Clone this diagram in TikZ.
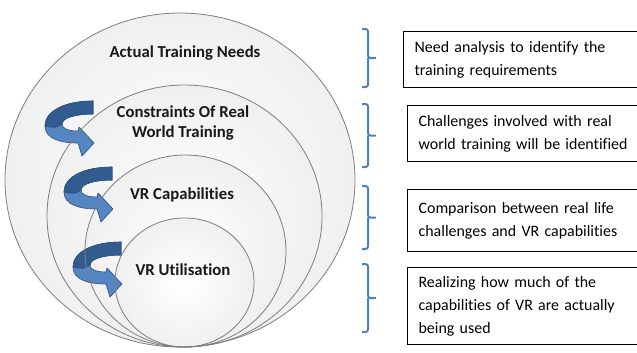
\documentclass[tikz,border=0pt]{standalone}
\usepackage{fontspec}
\setmainfont{Carlito}[Ligatures=NoCommon]
\definecolor{ringfill}{RGB}{240,240,240}
\definecolor{ringline}{RGB}{125,125,125}
\definecolor{arrowdark}{RGB}{50,92,143}
\definecolor{arrowlight}{RGB}{84,134,196}
\definecolor{arrowline}{RGB}{45,80,122}
\definecolor{bracecol}{RGB}{79,129,189}
\tikzstyle{ring}=[inner color=white, outer color=ringfill]
\tikzstyle{ringedge}=[draw=ringline, line width=0.8bp]
\tikzstyle{ringtext}=[font=\fontsize{16.8}{20}\selectfont\bfseries, align=center, text=black!90]
\tikzstyle{descbox}=[draw, line width=1.2bp, anchor=north west, inner xsep=11bp, text width=228bp, align=left, font=\fontsize{16}{23}\selectfont]
\tikzstyle{bracket}=[draw=bracecol, line width=2bp, rounded corners=2.5bp]
% curled arrow, origin at the top right corner of its tail
\tikzset{turnarrow/.pic={
  \filldraw[fill=arrowlight, draw=arrowline, line width=0.6bp] (0,0) .. controls (-28,0) and (-48,10) .. (-48,25) .. controls (-48,38) and (-32,42) .. (-15,42) -- (-11,55) -- (1,42) -- (-14,26) -- (-15,30) .. controls (-26,30) and (-31,27) .. (-31,23) .. controls (-31,17) and (-18,13) .. (0,13) -- cycle;
  \filldraw[fill=arrowdark, draw=arrowline, line width=0.6bp] (0,0) .. controls (-28,0) and (-48,10) .. (-48,25) .. controls (-42,27) and (-34,27) .. (-31,23) .. controls (-31,17) and (-18,13) .. (0,13) -- cycle;
}}
% square brace from #1 to #2 on x = 368
\newcommand{\sidebrace}[2]{%
  \draw[bracket] (362,#1) -- (368,#1) -- (368,{(#1+#2)/2}) -- (376,{(#1+#2)/2})
    (368,{(#1+#2)/2}) -- (368,#2) -- (362,#2);}

\begin{document}
\begin{tikzpicture}[x=1bp, y=-1bp]
    \useasboundingbox (0,0) rectangle (637,352);
    \coordinate (c1) at (180,180);
    \coordinate (c2) at (184.5,216);
    \coordinate (c3) at (185.5,251);
    \coordinate (c4) at (184.5,282.5);
    % nested rings, all touching at the bottom
    \shade[ring] (c1) ellipse [x radius=175bp, y radius=167bp];
    \shade[ring] (c2) ellipse [x radius=137.5bp, y radius=131bp];
    \shade[ring] (c3) ellipse [x radius=100.5bp, y radius=96bp];
    \shade[ring] (c4) ellipse [x radius=69.5bp, y radius=64.5bp];
    \pic at (93,101) {turnarrow};
    \pic at (112,167) {turnarrow};
    \pic at (121,242) {turnarrow};
    \path[ringedge] (c1) ellipse [x radius=175bp, y radius=167bp];
    \path[ringedge] (c2) ellipse [x radius=137.5bp, y radius=131bp];
    \path[ringedge] (c3) ellipse [x radius=100.5bp, y radius=96bp];
    \path[ringedge] (c4) ellipse [x radius=69.5bp, y radius=64.5bp];
    \node[ringtext] (needs) at (185,53) {Actual Training Needs};
    \node[ringtext] (limits) at (183,123) {Constraints Of Real\\World Training};
    \node[ringtext] (vrcap) at (182,195) {VR Capabilities};
    \node[ringtext] (vruse) at (183,270) {VR Utilisation};
    % braces and the notes beside them
    \sidebrace{29}{87}
    \sidebrace{104}{167}
    \sidebrace{186}{249}
    \sidebrace{264}{332}
    \node[descbox, minimum height=56bp] (need) at (403,31) {Need analysis to identify the\\training requirements};
    \node[descbox, minimum height=56bp] (challenge) at (407,105) {Challenges involved with real\\world training will be identified};
    \node[descbox, minimum height=62bp] (compare) at (407,189) {Comparison between real life\\challenges and VR capabilities};
    \node[descbox, minimum height=77bp] (usage) at (407,267) {Realizing how much of the\\capabilities of VR are actually\\being used};
\end{tikzpicture}
\end{document}
